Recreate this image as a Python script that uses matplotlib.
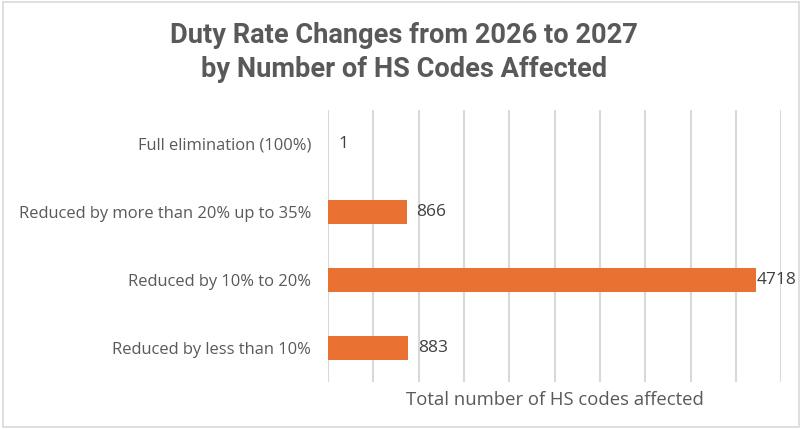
import matplotlib
matplotlib.use("Agg")
import matplotlib.pyplot as plt
from matplotlib.patches import Rectangle

# data
categories = ["Full elimination (100%)",
              "Reduced by more than 20% up to 35%",
              "Reduced by 10% to 20%",
              "Reduced by less than 10%"]
counts = [1, 866, 4718, 883]
label_pad = [10, 10, 1, 10]  # data label offsets in px

orange = "#E97132"
grey_txt = "#595959"
grid_col = "#D9D9D9"

plt.rcParams["font.family"] = ["Open Sans", "DejaVu Sans"]

fig = plt.figure(figsize=(8.02, 4.29), dpi=100)
fig.patches.append(Rectangle((0.004, 0.004), 0.992, 0.992, transform=fig.transFigure,
                             fill=False, edgecolor=grid_col, linewidth=1.2))

ax = fig.add_axes([0.409, 0.1096, 0.565, 0.634])
y = list(range(len(categories)))
ax.barh(y, counts, height=0.35, color=orange, zorder=3)
ax.set_ylim(3.5, -0.5)
ax.set_xlim(0, 5000)
ax.set_xticks(range(0, 5001, 500))
ax.set_xticklabels([])
ax.tick_params(axis="x", length=0)
ax.tick_params(axis="y", length=0, pad=12, labelsize=11.9, labelcolor=grey_txt)
ax.set_yticks(y)
ax.set_yticklabels(categories)
ax.grid(axis="x", color=grid_col, linewidth=1.5, zorder=0)
for s in ax.spines.values():
    s.set_visible(False)

for yi, v, p in zip(y, counts, label_pad):
    ax.annotate(str(v), (v, yi), xytext=(p, 0), textcoords="offset pixels",
                va="center", ha="left", fontsize=12.5, color="#404040")

ax.set_xlabel("Total number of HS codes affected", fontsize=13.3, color=grey_txt, labelpad=3)

title_font = ["Roboto", "DejaVu Sans"]
fig.text(0.504, 0.917, "Duty Rate Changes from 2026 to 2027",
         ha="center", va="center", fontsize=19.6, fontweight="bold", color=grey_txt,
         family=title_font)
fig.text(0.504, 0.838, "by Number of HS Codes Affected",
         ha="center", va="center", fontsize=19.6, fontweight="bold", color=grey_txt,
         family=title_font)

fig.savefig("out.png", dpi=100)
